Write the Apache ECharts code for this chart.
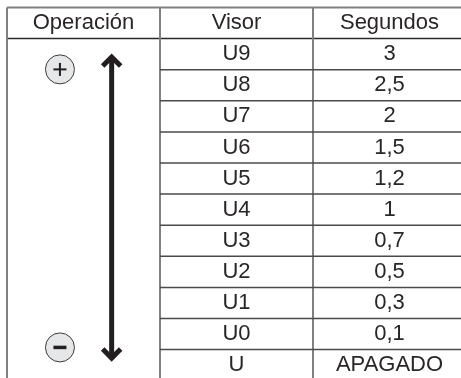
<!DOCTYPE html>
<html>
<head>
<meta charset="utf-8">
<script src="https://cdn.jsdelivr.net/npm/echarts@6/dist/echarts.min.js"></script>
<style>
html,body{margin:0;padding:0;background:#fff;}
#c{width:461px;height:378px;}
</style>
</head>
<body>
<div id="c"></div>
<script>
const headers = ['Operación', 'Visor', 'Segundos'];
const visor = ['U9', 'U8', 'U7', 'U6', 'U5', 'U4', 'U3', 'U2', 'U1', 'U0', 'U'];
const segundos = ['3', '2,5', '2', '1,5', '1,2', '1', '0,7', '0,5', '0,3', '0,1', 'APAGADO'];
const operacionSignos = ['+', '−'];

const FONT = '"Liberation Sans", Arial, Helvetica, sans-serif';
const TXT = '#2a2627';
const HLINE = '#4a4a4a';
const VLINE = '#808080';

const chart = echarts.init(document.getElementById('c'), null, {renderer: 'canvas'});

function txt(api, cx, cy, s) {
  const p = api.coord([cx, cy]);
  return {
    type: 'text',
    style: {
      text: s, x: p[0], y: p[1],
      align: 'center', verticalAlign: 'middle',
      textAlign: 'center', textVerticalAlign: 'middle',
      fontSize: 22, fontFamily: FONT, fill: TXT
    }
  };
}
function line(api, x1, y1, x2, y2, color, w) {
  const a = api.coord([x1, y1]), b = api.coord([x2, y2]);
  return {type: 'line', shape: {x1: a[0], y1: a[1], x2: b[0], y2: b[1]},
          style: {stroke: color, lineWidth: w}};
}

const rowData = visor.map((v, i) => [i + 1, v, segundos[i]]);

const option = {
  animation: false,
  grid: {left: 7, top: 7.5, width: 459, height: 373.2, containLabel: false, outerBoundsMode: 'none'},
  xAxis: {type: 'value', min: 0, max: 3, show: false},
  yAxis: {type: 'value', min: 0, max: 12, inverse: true, show: false},
  series: [
    {
      type: 'custom',
      clip: false,
      data: [[0]],
      renderItem: function (params, api) {
        const ch = [];
        ch.push(line(api, 0, 0, 3, 0, VLINE, 2));
        ch.push(line(api, 0, 1, 3, 1, '#2a2a2a', 1.5));
        [0, 1, 2, 3].forEach(function (x) {
          ch.push(line(api, x, 0, x, 12.2, VLINE, 2));
        });
        headers.forEach(function (h, i) {
          ch.push(txt(api, i + 0.5, 0.5, h));
        });
        return {type: 'group', children: ch};
      }
    },
    {
      type: 'custom',
      clip: false,
      data: rowData,
      renderItem: function (params, api) {
        const r = api.value(0);
        const ch = [];
        if (r > 1) ch.push(line(api, 1, r, 3, r, HLINE, 1.5));
        ch.push(txt(api, 1.5, r + 0.5, visor[params.dataIndex]));
        ch.push(txt(api, 2.5, r + 0.5, segundos[params.dataIndex]));
        return {type: 'group', children: ch};
      }
    },
    {
      type: 'custom',
      clip: false,
      data: operacionSignos.map((s, i) => [i, s]),
      renderItem: function (params, api) {
        const i = params.dataIndex;
        const cy = i === 0 ? 1.99 : 10.93;
        const c = api.coord([0.346, cy]);
        const ch = [];
        ch.push({type: 'circle', shape: {cx: c[0], cy: c[1], r: 14.5},
                 style: {fill: '#e6e7e8', stroke: '#3a3a3a', lineWidth: 1}});
        ch.push({type: 'line', shape: {x1: c[0] - 6.5, y1: c[1], x2: c[0] + 6.5, y2: c[1]},
                 style: {stroke: '#231f20', lineWidth: i === 0 ? 2 : 3.5}});
        if (i === 0) {
          ch.push({type: 'line', shape: {x1: c[0], y1: c[1] - 6.5, x2: c[0], y2: c[1] + 6.5},
                   style: {stroke: '#231f20', lineWidth: 2}});
          const top = api.coord([0.684, 1.495]);
          const bot = api.coord([0.684, 11.37]);
          ch.push({type: 'line', shape: {x1: top[0], y1: top[1] + 3, x2: bot[0], y2: bot[1] - 3},
                   style: {stroke: '#231f20', lineWidth: 5}});
          ch.push({type: 'polyline', shape: {points: [[top[0] - 9, top[1] + 12], [top[0], top[1] + 3], [top[0] + 9, top[1] + 12]]},
                   style: {stroke: '#231f20', lineWidth: 5, fill: null, lineJoin: 'miter'}});
          ch.push({type: 'polyline', shape: {points: [[bot[0] - 9, bot[1] - 12], [bot[0], bot[1] - 3], [bot[0] + 9, bot[1] - 12]]},
                   style: {stroke: '#231f20', lineWidth: 5, fill: null, lineJoin: 'miter'}});
        }
        return {type: 'group', children: ch};
      }
    }
  ]
};
chart.setOption(option);
</script>
</body>
</html>
